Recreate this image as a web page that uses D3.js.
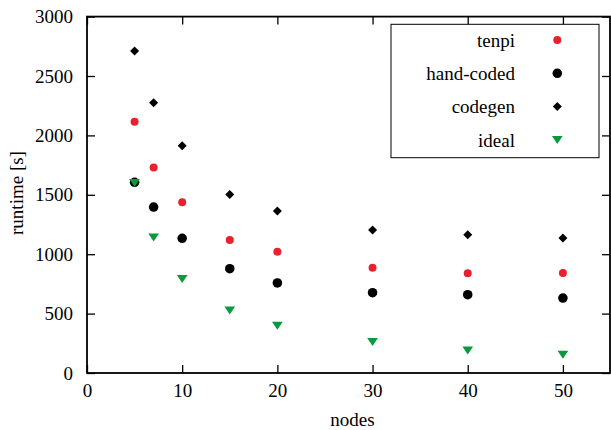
<!DOCTYPE html>
<html lang="en">
<head>
  <meta charset="UTF-8">
  <title>runtime vs nodes</title>
  <style>
    body { margin: 0; background: #fff; }
    svg { display: block; }
    text { font-family: "Liberation Serif", "DejaVu Serif", serif; fill: #000; }
    .axis path, .axis line { fill: none; stroke: #000; }
    .axis text { font-size: 19px; font-family: "Liberation Serif", serif; }
  </style>
</head>
<body>
  <script src="https://cdn.jsdelivr.net/npm/d3@7"></script>
  <script>
    // data
    var nodes = [5, 7, 10, 15, 20, 30, 40, 50];
    var tenpi = [2115, 1730, 1437, 1120, 1021, 886, 840, 842];
    var handCoded = [1605, 1397, 1134, 878, 758, 676, 659, 631];
    var codegen = [2710, 2275, 1913, 1502, 1364, 1204, 1164, 1136];
    var ideal = [1600, 1140, 792, 527, 397, 260, 190, 153];
    var xTicks = [0, 10, 20, 30, 40, 50];
    var yTicks = [0, 500, 1000, 1500, 2000, 2500, 3000];

    var width = 611, height = 430;
    // plot area (note: "top" is taken by window.top)
    var mLeft = 87, mTop = 16.6, mRight = 610, mBottom = 373;

    var x = d3.scaleLinear().domain([0, 55]).range([mLeft, mRight + 0.5]);
    var y = d3.scaleLinear().domain([0, 3000]).range([mBottom, mTop]);

    var svg = d3.select("body").append("svg").attr("width", width).attr("height", height);

    // axes, ticks pointing inward, mirrored on top and right
    svg.append("g").attr("class", "axis").attr("transform", "translate(0," + mBottom + ")")
      .call(d3.axisBottom(x).tickValues(xTicks).tickFormat(d3.format("d"))
        .tickSize(-8).tickPadding(11).tickSizeOuter(0));
    svg.append("g").attr("class", "axis").attr("transform", "translate(" + mLeft + ",0)")
      .call(d3.axisLeft(y).tickValues(yTicks).tickFormat(d3.format("d"))
        .tickSize(-8).tickPadding(14).tickSizeOuter(0));
    svg.append("g").attr("class", "axis").attr("transform", "translate(0," + mTop + ")")
      .call(d3.axisTop(x).tickValues(xTicks).tickSize(-8).tickFormat("").tickSizeOuter(0));
    svg.append("g").attr("class", "axis").attr("transform", "translate(" + mRight + ",0)")
      .call(d3.axisRight(y).tickValues(yTicks).tickSize(-8).tickFormat("").tickSizeOuter(0));
    svg.selectAll(".axis line").attr("stroke-width", 1.3);
    svg.selectAll(".axis path").remove();

    // frame
    svg.append("rect").attr("x", mLeft).attr("y", mTop)
      .attr("width", mRight - mLeft).attr("height", mBottom - mTop)
      .attr("fill", "none").attr("stroke", "#000").attr("stroke-width", 1.8);

    svg.append("text").attr("x", (mLeft + mRight) / 2 + 4).attr("y", 426)
      .attr("text-anchor", "middle").style("font-size", "19px").text("nodes");
    svg.append("text").attr("transform", "translate(23,193) rotate(-90)")
      .attr("text-anchor", "middle").style("font-size", "19px").text("runtime [s]");

    // marker shapes
    var triDown = {
      draw: function (ctx, size) {
        var w = Math.sqrt(size);
        ctx.moveTo(-w * 0.67, -w * 0.5);
        ctx.lineTo(w * 0.67, -w * 0.5);
        ctx.lineTo(0, w * 0.5);
        ctx.closePath();
      }
    };
    var diamond = {
      draw: function (ctx, size) {
        var r = Math.sqrt(size) / 2;
        ctx.moveTo(0, -r); ctx.lineTo(r, 0); ctx.lineTo(0, r); ctx.lineTo(-r, 0);
        ctx.closePath();
      }
    };

    var series = [
      { name: "tenpi", values: tenpi, type: d3.symbolCircle, size: 50, color: "#e8212f" },
      { name: "hand-coded", values: handCoded, type: d3.symbolCircle, size: 72, color: "#000" },
      { name: "codegen", values: codegen, type: diamond, size: 81, color: "#000" },
      { name: "ideal", values: ideal, type: triDown, size: 64, color: "#0a9a3c" }
    ];

    series.forEach(function (s) {
      var sym = d3.symbol().type(s.type).size(s.size);
      svg.append("g").selectAll("path").data(nodes).enter().append("path")
        .attr("transform", function (d, i) { return "translate(" + x(d) + "," + y(s.values[i]) + ")"; })
        .attr("d", sym).attr("fill", s.color);
    });

    // legend
    var lg = svg.append("g");
    lg.append("rect").attr("x", 391).attr("y", 24.3).attr("width", 208).attr("height", 133.4)
      .attr("fill", "#fff").attr("stroke", "#000").attr("stroke-width", 1);
    series.forEach(function (s, i) {
      var cy = 40 + i * 33.3;
      lg.append("text").attr("x", 515).attr("y", cy).attr("dy", "0.35em")
        .attr("text-anchor", "end").style("font-size", "19px").text(s.name);
      lg.append("path").attr("transform", "translate(557.3," + cy + ")")
        .attr("d", d3.symbol().type(s.type).size(s.size)).attr("fill", s.color);
    });
  </script>
</body>
</html>
